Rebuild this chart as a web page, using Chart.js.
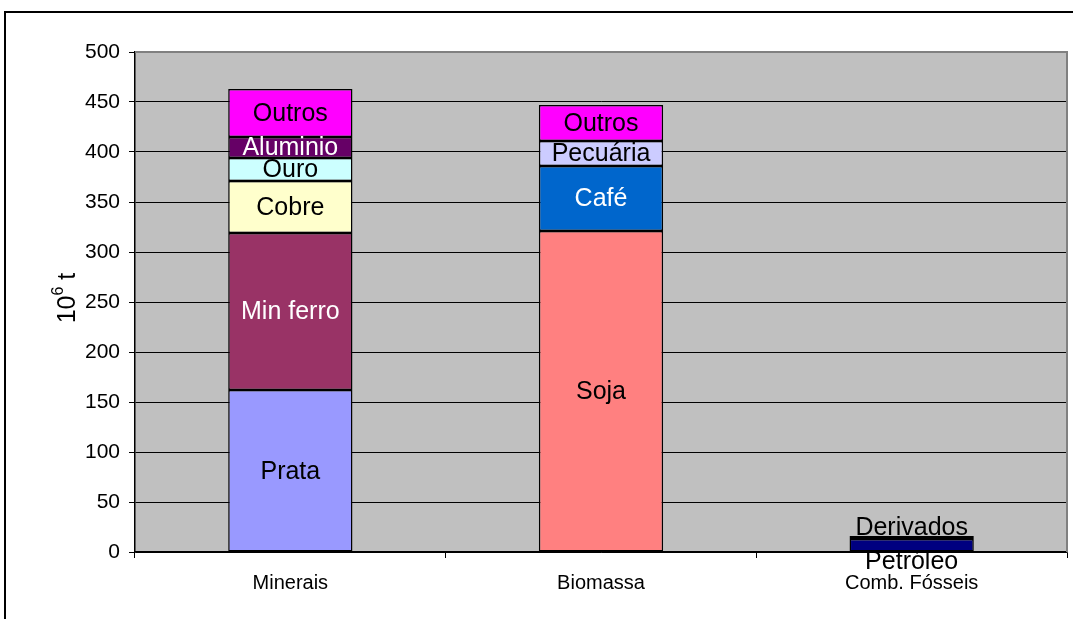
<!DOCTYPE html>
<html>
<head>
<meta charset="utf-8">
<script src="https://cdn.jsdelivr.net/npm/chart.js@4"></script>
<style>
  html, body { margin: 0; padding: 0; background: #fff; overflow: hidden; }
  #wrap { position: relative; width: 1073px; height: 619px; }
  #frame { position: absolute; left: 4px; top: 11px; width: 1200px; height: 800px;
           border: 2px solid #000; pointer-events: none; }
</style>
</head>
<body>
<div id="wrap">
  <canvas id="chart" width="1073" height="619"></canvas>
  <div id="frame"></div>
</div>
<script>
// categories and stacked segments (bottom to top)
const categories = ['Minerais', 'Biomassa', 'Comb. Fósseis'];

const mineraisLabels = ['Prata', 'Min ferro', 'Cobre', 'Ouro', 'Aluminio', 'Outros'];
const mineraisValues = [162, 157, 52, 23, 21, 48];

const biomassaLabels = ['Soja', 'Café', 'Pecuária', 'Outros'];
const biomassaValues = [321, 65, 25, 36];

const fosseisLabels = ['Petróleo', 'Derivados'];
const fosseisValues = [13, 3];

const yTicks = [0, 50, 100, 150, 200, 250, 300, 350, 400, 450, 500];

// styles
const mineraisColors = ['#9999ff', '#993366', '#ffffcc', '#ccffff', '#660066', '#ff00ff'];
const biomassaColors = ['#ff8080', '#0066cc', '#ccccff', '#ff00ff'];
const fosseisColors = ['#000080', '#ff00ff'];
const whiteText = ['Min ferro', 'Aluminio', 'Café'];

const FONT = 'Liberation Sans, Arial, sans-serif';

const groups = [
  [mineraisLabels, mineraisValues, mineraisColors],
  [biomassaLabels, biomassaValues, biomassaColors],
  [fosseisLabels, fosseisValues, fosseisColors]
];

const datasets = [];
groups.forEach(([labels, values, colors], ci) => {
  labels.forEach((name, j) => {
    const data = categories.map(() => null);
    data[ci] = values[j];
    datasets.push({
      label: name,
      data,
      backgroundColor: colors[j],
      borderColor: '#000',
      borderWidth: 1.5,
      borderSkipped: false,
      barPercentage: 0.4,
      categoryPercentage: 1.0,
      catIndex: ci
    });
  });
});

// gray plot background + top/right gray frame
const plotBg = {
  id: 'plotBg',
  beforeDraw(chart) {
    const { ctx, chartArea: a } = chart;
    ctx.save();
    ctx.fillStyle = '#c0c0c0';
    ctx.fillRect(a.left, a.top, a.right - a.left, a.bottom - a.top);
    ctx.restore();
  },
  afterDatasetsDraw(chart) {
    const { ctx, chartArea: a } = chart;
    ctx.save();
    ctx.strokeStyle = '#808080';
    ctx.lineWidth = 2;
    ctx.beginPath();
    ctx.moveTo(a.left, a.top);
    ctx.lineTo(a.right, a.top);
    ctx.lineTo(a.right, a.bottom);
    ctx.stroke();
    ctx.restore();
  }
};

// segment labels and y title
const segLabels = {
  id: 'segLabels',
  afterDraw(chart) {
    const { ctx } = chart;
    ctx.save();
    ctx.textAlign = 'center';
    ctx.textBaseline = 'middle';
    ctx.font = '25px ' + FONT;
    chart.data.datasets.forEach((ds, i) => {
      const el = chart.getDatasetMeta(i).data[ds.catIndex];
      if (!el) return;
      let y = (el.y + el.base) / 2;
      if (ds.label === 'Petróleo') y = el.base + 10;
      if (ds.label === 'Derivados') y = el.y - 9;
      ctx.fillStyle = whiteText.includes(ds.label) ? '#fff' : '#000';
      ctx.fillText(ds.label, el.x, y + 1);
    });

    // y axis title: 10^6 t
    ctx.translate(66, 298);
    ctx.rotate(-Math.PI / 2);
    ctx.textAlign = 'left';
    ctx.textBaseline = 'alphabetic';
    ctx.fillStyle = '#000';
    ctx.font = '25px ' + FONT;
    const w10 = ctx.measureText('10').width;
    ctx.font = '16px ' + FONT;
    const w6 = ctx.measureText('6').width;
    ctx.font = '25px ' + FONT;
    const wt = ctx.measureText(' t').width;
    let x = -(w10 + w6 + wt) / 2;
    ctx.fillText('10', x, 9);
    x += w10;
    ctx.font = '16px ' + FONT;
    ctx.fillText('6', x, -3);
    x += w6;
    ctx.font = '25px ' + FONT;
    ctx.fillText(' t', x, 9);
    ctx.restore();
  }
};

new Chart(document.getElementById('chart'), {
  type: 'bar',
  data: { labels: categories, datasets },
  options: {
    responsive: false,
    animation: false,
    layout: { padding: { top: 52, right: 6, left: 0, bottom: 0 } },
    plugins: { legend: { display: false }, tooltip: { enabled: false } },
    scales: {
      x: {
        stacked: true,
        offset: true,
        afterFit(scale) { scale.height = 67; },
        grid: { offset: true, drawOnChartArea: false, drawTicks: true, tickLength: 6, color: '#000', lineWidth: 1 },
        border: { color: '#000', width: 1.5 },
        ticks: { color: '#000', font: { family: FONT, size: 20 }, padding: 13 }
      },
      y: {
        stacked: true,
        min: 0,
        max: 500,
        afterFit(scale) { scale.width = 135; },
        afterBuildTicks(scale) { scale.ticks = yTicks.map(v => ({ value: v })); },
        grid: { color: '#000', lineWidth: 1, tickLength: 6 },
        border: { color: '#000', width: 1.5 },
        ticks: { color: '#000', font: { family: FONT, size: 21 }, padding: 9 }
      }
    }
  },
  plugins: [plotBg, segLabels]
});
</script>
</body>
</html>
